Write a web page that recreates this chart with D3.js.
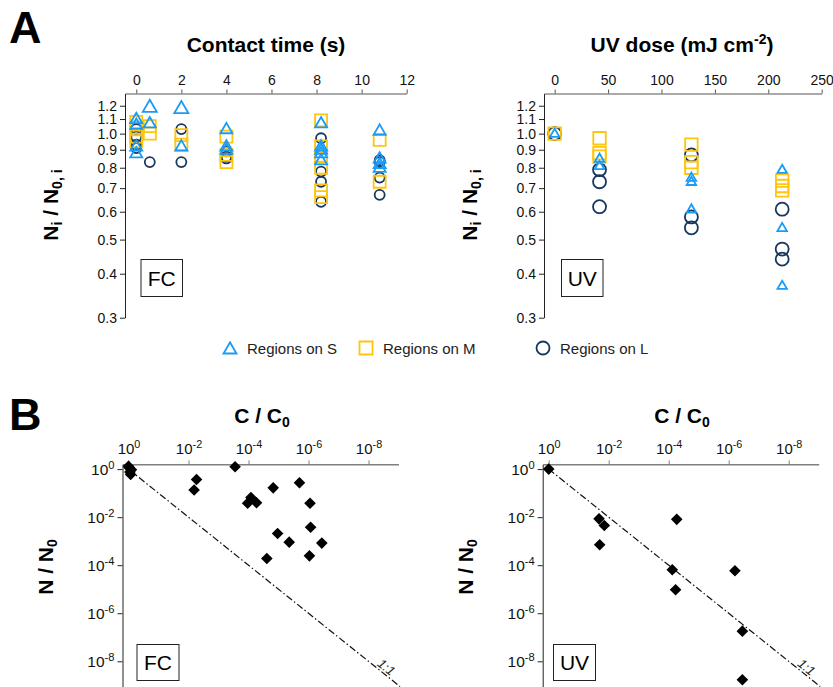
<!DOCTYPE html>
<html><head><meta charset="utf-8">
<script src="https://cdn.jsdelivr.net/npm/d3@7"></script>
<style>
body{margin:0;background:#fff;}
svg text{font-family:"Liberation Sans",Arial,sans-serif;}
</style></head>
<body><svg id="c" width="833" height="687"></svg>
<script>
// ---------- DATA ----------
// Panel A, FC: contact time (s) and Ni/N0,i
const fcS_x = [0,0,0,0, 0.6,0.6, 2,2, 4,4,4, 8.2,8.2,8.2,8.2,8.2, 10.8,10.8,10.8,10.8];
const fcS_y = [1.10,1.06,0.92,0.88, 1.19,1.07, 1.18,0.92, 1.03,0.92,0.90, 1.07,0.92,0.90,0.88,0.84, 1.02,0.85,0.82,0.80];
const fcM_x = [0,0,0,0, 0.6,0.6, 2,2, 4,4,4, 8.2,8.2,8.2,8.2,8.2,8.2, 10.8,10.8];
const fcM_y = [1.08,1.04,0.98,0.95, 1.05,1.00, 0.99,0.93, 0.98,0.87,0.83, 1.09,0.92,0.86,0.80,0.69,0.66, 0.96,0.73];
const fcL_x = [0,0,0,0, 0.6, 2,2, 4,4,4, 8.2,8.2,8.2,8.2, 10.8,10.8,10.8,10.8];
const fcL_y = [1.03,0.98,0.93,0.91, 0.83, 1.03,0.83, 0.89,0.86,0.85, 0.97,0.78,0.73,0.64, 0.84,0.83,0.75,0.67];
// Panel A, UV: dose (mJ cm-2)
const uvS_x = [0, 42,42, 128,128,128, 213,213,213];
const uvS_y = [1.00, 0.85,0.81, 0.75,0.73,0.61, 0.79,0.54,0.37];
const uvM_x = [0, 42,42,42, 128,128,128, 213,213,213];
const uvM_y = [1.00, 0.97,0.88,0.86, 0.93,0.83,0.80, 0.735,0.71,0.69];
const uvL_x = [0, 42,42,42, 128,128,128, 213,213,213];
const uvL_y = [1.00, 0.79,0.73,0.62, 0.87,0.58,0.54, 0.61,0.47,0.44];
const aYTicks = [0.3,0.4,0.5,0.6,0.7,0.8,0.9,1.0,1.1,1.2];
const fcXTicks = [0,2,4,6,8,10,12];
const uvXTicks = [0,50,100,150,200,250];
// Panel B: C/C0 vs N/N0
const bFC_c = [1.0,0.95,0.8,0.9,0.85, 2.8e-4,5.4e-3,6.5e-3,1.5e-5,2.0e-6,8.3e-5,1.07e-4,5.4e-5,8.9e-7,8.5e-7,1.07e-5,4.4e-6,3.6e-7,2.45e-5,9.3e-7];
const bFC_n = [1.3,1.15,0.95,0.75,0.6, 1.26,0.37,0.135,0.166,0.27,0.066,0.038,0.040,0.038,3.8e-3,2.1e-3,9.1e-4,8.3e-4,1.9e-4,2.45e-4];
const bUV_c = [1, 2.1e-2,1.4e-2,2.0e-2,5.4e-5,7.6e-5,5.9e-5,6.2e-7,3.5e-7,3.5e-7];
const bUV_n = [1, 8.5e-3,4.5e-3,7.1e-4,8.1e-3,6.5e-5,9.5e-6,5.9e-5,1.8e-7,1.7e-9];
const bTicks = [1,1e-2,1e-4,1e-6,1e-8];
const legendLabels = ["Regions on S","Regions on M","Regions on L"];

// ---------- STYLE ----------
const colS = "#1a9bf5", colM = "#ffc50d", colL = "#17375e";
const svg = d3.select("#c");

function triPath(w){ const h=w*0.866; return `M0,${-h*0.6}L${w/2},${h*0.4}L${-w/2},${h*0.4}Z`; }
function sqPath(s){ return `M${-s/2},${-s/2}h${s}v${s}h${-s}Z`; }
function diaPath(r){ return `M0,${-r}L${r},0L0,${r}L${-r},0Z`; }

function fitLen(text, maxLen){
  const w = text.node().getBBox().width;
  if (w > maxLen){
    const fs = +text.attr("font-size");
    text.attr("font-size", fs*maxLen/w);
  }
}

function panelA(opt){
  const x = d3.scaleLinear().domain(opt.xdom).range(opt.xr);
  const y = d3.scaleLog().domain([0.3,1.3]).range([317.7,93.5]);
  const g = svg.append("g");
  const ax = g.append("g").attr("transform",`translate(0,${y(1.3)})`)
    .call(d3.axisTop(x).tickValues(opt.xt).tickSize(4).tickSizeOuter(0).tickFormat(d3.format("d")));
  ax.select(".domain").attr("stroke","#555");
  ax.selectAll(".tick line").attr("stroke","#555");
  ax.selectAll("text").attr("font-size",14).attr("fill","#111").attr("dy","-0.1em");
  const ay = g.append("g").attr("transform",`translate(${opt.xr[0]},0)`)
    .call(d3.axisLeft(y).tickValues(aYTicks).tickSize(5).tickSizeOuter(0).tickFormat(d3.format(".1f")));
  ay.select(".domain").attr("stroke","#222");
  ay.selectAll(".tick line").attr("stroke","#222");
  ay.selectAll("text").attr("font-size",14).attr("fill","#111");
  // data: circles, squares, triangles
  g.selectAll(".L").data(opt.L[0].map((d,i)=>[d,opt.L[1][i]])).join("circle")
    .attr("cx",d=>x(d[0])).attr("cy",d=>y(d[1])).attr("r",opt.cr)
    .attr("fill","none").attr("stroke",colL).attr("stroke-width",1.8);
  g.selectAll(".M").data(opt.M[0].map((d,i)=>[d,opt.M[1][i]])).join("path")
    .attr("transform",d=>`translate(${x(d[0])},${y(d[1])})`).attr("d",sqPath(opt.sq))
    .attr("fill","none").attr("stroke",colM).attr("stroke-width",1.8);
  g.selectAll(".S").data(opt.S[0].map((d,i)=>[d,opt.S[1][i]])).join("path")
    .attr("transform",d=>`translate(${x(d[0])},${y(d[1])})`).attr("d",d=>triPath(opt.tw(d)))
    .attr("fill","none").attr("stroke",colS).attr("stroke-width",1.8);
  // title
  const t = g.append("text").attr("x",opt.tx).attr("y",52).attr("text-anchor","middle")
    .attr("font-size",21).attr("font-weight","bold").attr("fill","#000");
  opt.title(t);
  // y label
  const yl = g.append("text").attr("transform",`translate(${opt.ylx},205) rotate(-90)`)
    .attr("text-anchor","middle").attr("font-size",21).attr("font-weight","bold");
  yl.append("tspan").text("N");
  yl.append("tspan").attr("font-size","0.67em").attr("dy","0.3em").text("i");
  yl.append("tspan").attr("dy","-0.2em").text(" / N");
  yl.append("tspan").attr("font-size","0.67em").attr("dy","0.3em").text("0, i");
  fitLen(yl, 78);
  // box label
  g.append("rect").attr("x",opt.bx).attr("y",259.5).attr("width",41.5).attr("height",37)
    .attr("fill","#fff").attr("stroke","#222").attr("stroke-width",1);
  g.append("text").attr("x",opt.bx+20.75).attr("y",285.5).attr("text-anchor","middle")
    .attr("font-size",21).attr("fill","#000").text(opt.lab);
}

panelA({xdom:[-0.5,12], xr:[125,406.7], xt:fcXTicks, S:[fcS_x,fcS_y], M:[fcM_x,fcM_y], L:[fcL_x,fcL_y],
  cr:5, sq:12, tw:d=> d[0]<3 && d[1]>1.1 ? 14 : 12, tx:266,
  title:t=>t.text("Contact time (s)"), ylx:58, bx:141, lab:"FC"});
panelA({xdom:[-10,250], xr:[544,821.7], xt:uvXTicks, S:[uvS_x,uvS_y], M:[uvM_x,uvM_y], L:[uvL_x,uvL_y],
  cr:6.5, sq:12.5, tw:d=>9.5, tx:682,
  title:t=>{ t.append("tspan").text("UV dose (mJ cm");
             t.append("tspan").attr("font-size",14).attr("dy","-0.55em").text("-2");
             t.append("tspan").attr("dy","0.38em").text(")"); },
  ylx:477, bx:561.5, lab:"UV"});

// legend
const lg = svg.append("g");
const lx = [230,366,543];
lg.append("path").attr("transform",`translate(${lx[0]},349)`).attr("d",triPath(13)).attr("fill","none").attr("stroke",colS).attr("stroke-width",1.8);
lg.append("path").attr("transform",`translate(${lx[1]},348)`).attr("d",sqPath(13)).attr("fill","none").attr("stroke",colM).attr("stroke-width",1.8);
lg.append("circle").attr("cx",lx[2]).attr("cy",348).attr("r",6.5).attr("fill","none").attr("stroke",colL).attr("stroke-width",1.8);
legendLabels.forEach((s,i)=>{
  lg.append("text").attr("x",lx[i]+17).attr("y",353.5).attr("font-size",15).attr("fill","#222").text(s);
});

// panel letters
svg.append("text").attr("x",9).attr("y",43).attr("font-size",45).attr("font-weight","bold").text("A");
svg.append("text").attr("x",9).attr("y",430).attr("font-size",45).attr("font-weight","bold").text("B");

function supText(sel, size){
  sel.each(function(d){
    const t=d3.select(this); t.text(null);
    t.append("tspan").text("10");
    t.append("tspan").attr("font-size",size*0.72).attr("dy","-0.5em").text(Math.round(Math.log10(d)));
  });
}

function panelB(opt){
  const x = d3.scaleLog().domain([Math.pow(10,0.2),1e-9]).range(opt.xr);
  const y = d3.scaleLog().domain([Math.pow(10,0.2),Math.pow(10,-9.07)]).range([464.3,687]);
  const g = svg.append("g");
  const ax = g.append("g").attr("transform",`translate(0,464.3)`)
    .call(d3.axisTop(x).tickValues(bTicks).tickSize(4).tickSizeOuter(0).tickFormat(""));
  ax.select(".domain").attr("stroke","#808080").attr("stroke-width",1.5);
  ax.selectAll(".tick line").attr("stroke","#808080");
  ax.selectAll(".tick text").attr("font-size",15).attr("fill","#111").attr("dy","-0.25em").call(supText,15);
  const ay = g.append("g").attr("transform",`translate(${opt.xr[0]},0)`)
    .call(d3.axisLeft(y).tickValues(bTicks).tickSize(5).tickSizeOuter(0).tickFormat(""));
  ay.select(".domain").attr("stroke","#222");
  ay.selectAll(".tick line").attr("stroke","#222");
  ay.selectAll(".tick text").attr("font-size",15.5).attr("fill","#111").call(supText,15.5);
  // 1:1 line
  const lo = Math.pow(10,-9.05);
  g.append("line").attr("x1",x(1)).attr("y1",y(1)).attr("x2",x(lo)).attr("y2",y(lo))
    .attr("stroke","#111").attr("stroke-width",1.2).attr("stroke-dasharray","7,2.5,1.5,2.5");
  const ang = Math.atan2(y(1e-8)-y(1), x(1e-8)-x(1))*180/Math.PI;
  const v = Math.pow(10,-8.6);
  g.append("text").attr("transform",`translate(${x(v)-3},${y(v)-5}) rotate(${ang})`)
    .attr("text-anchor","middle").attr("font-size",13).attr("font-style","italic").attr("fill","#222").text("1:1");
  // points
  g.selectAll(".p").data(opt.c.map((d,i)=>[d,opt.n[i]])).join("path")
    .attr("transform",d=>`translate(${x(d[0])},${y(d[1])})`).attr("d",diaPath(5.8)).attr("fill","#000");
  // title
  const t = g.append("text").attr("x",opt.tx).attr("y",423).attr("text-anchor","middle")
    .attr("font-size",21).attr("font-weight","bold");
  t.append("tspan").text("C / C");
  t.append("tspan").attr("font-size",14).attr("dy","0.3em").text("0");
  const yl = g.append("text").attr("transform",`translate(${opt.ylx},567) rotate(-90)`)
    .attr("text-anchor","middle").attr("font-size",21).attr("font-weight","bold");
  yl.append("tspan").text("N / N");
  yl.append("tspan").attr("font-size",14).attr("dy","0.3em").text("0");
  g.append("rect").attr("x",opt.bx).attr("y",644.5).attr("width",42).attr("height",36)
    .attr("fill","#fff").attr("stroke","#222").attr("stroke-width",1);
  g.append("text").attr("x",opt.bx+21).attr("y",670).attr("text-anchor","middle")
    .attr("font-size",21).attr("fill","#000").text(opt.lab);
}
panelB({xr:[122.5,398.5], c:bFC_c, n:bFC_n, tx:262, ylx:53, bx:137, lab:"FC"});
panelB({xr:[542.7,818.7], c:bUV_c, n:bUV_n, tx:682, ylx:473, bx:553.5, lab:"UV"});
</script></body></html>
